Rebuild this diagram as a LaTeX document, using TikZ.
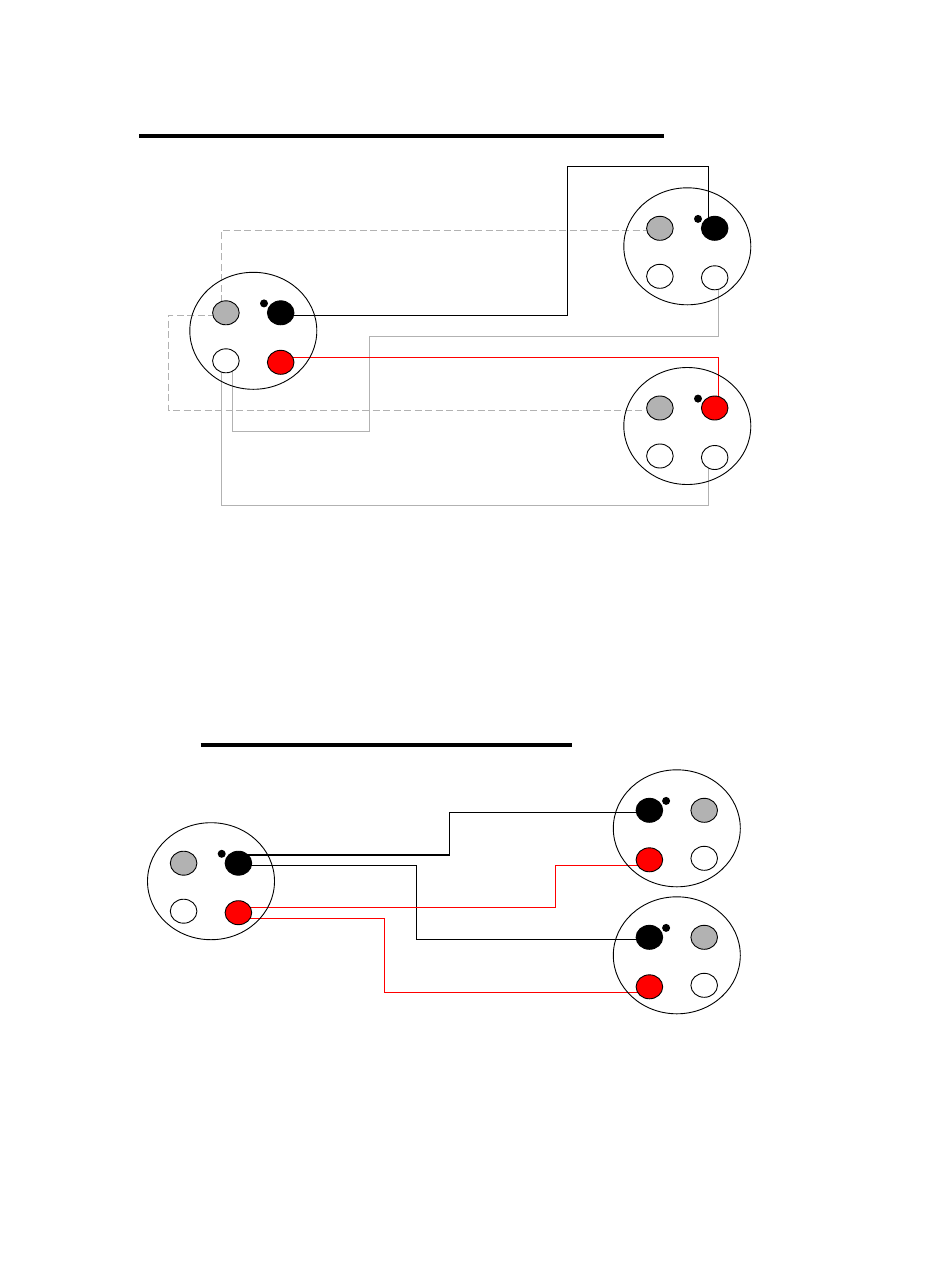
\documentclass[tikz,border=0pt]{standalone}
\usetikzlibrary{calc,shapes.geometric}
\pgfdeclarelayer{wires}
\pgfdeclarelayer{paper}
\pgfsetlayers{paper,wires,main}
\definecolor{pingray}{HTML}{B2B2B2}
\tikzset{
  shell/.style={ellipse,draw=black,line width=0.9pt,minimum width=127pt,minimum height=117pt,inner sep=0pt},
  pin/.style={ellipse,draw=black,line width=0.9pt,minimum width=26.6pt,minimum height=24pt,inner sep=0pt},
  keydot/.style={circle,fill=black,minimum size=8pt,inner sep=0pt},
  wire/.style={line width=#1,line join=miter},
  wire/.default=1pt,
  blackwire/.style={wire=1.1pt,draw=black},
  redwire/.style={wire=1pt,draw=red},
  graywire/.style={wire=1pt,draw=pingray},
  dashwire/.style={wire=1pt,draw=pingray,dash pattern=on 7pt off 3.5pt},
  rulebar/.style={line width=4.2pt,draw=black}
}
% name, centre x, centre y, side of the key (+1 right, -1 left), four pin colours
\newcommand{\plug}[8]{%
  \node[shell] (#1) at (#2,#3) {};
  \node[pin,fill=#5] (#1-key) at ({#2+#4*27.4},{#3-18}) {};
  \node[pin,fill=#6] (#1-far) at ({#2-#4*27.4},{#3-18}) {};
  \node[pin,fill=#7] (#1-low) at ({#2+#4*27.4},{#3+31.5}) {};
  \node[pin,fill=#8] (#1-lowfar) at ({#2-#4*27.4},{#3+30}) {};
  \node[keydot] (#1-dot) at ({#2+#4*10.7},{#3-27.4}) {};
}
\begin{document}
\begin{tikzpicture}[x=1pt,y=-1pt]
\useasboundingbox (0,0) rectangle (950,1267);
\begin{pgfonlayer}{paper}
  \fill[white] (0,0) rectangle (950,1267);
\end{pgfonlayer}

\coordinate (bar1a) at (139,136.2);
\coordinate (bar1b) at (663.5,136.2);
\coordinate (bar2a) at (200.5,745.2);
\coordinate (bar2b) at (572.3,745.2);
\draw[rulebar] (bar1a) -- (bar1b);
\draw[rulebar] (bar2a) -- (bar2b);

\plug{a}{253.3}{330.8}{1}{black}{pingray}{red}{white}
\plug{b}{687.3}{246.3}{1}{black}{pingray}{white}{white}
\plug{c}{687.3}{426}{1}{red}{pingray}{white}{white}
\plug{d}{211}{881.2}{1}{black}{pingray}{red}{white}
\plug{e}{676.8}{828.3}{-1}{black}{pingray}{red}{white}
\plug{f}{676.8}{955.3}{-1}{black}{pingray}{red}{white}

\begin{pgfonlayer}{wires}
  \draw[dashwire] ($(a-far)+(-4.2,0)$) |- ($(b-far)+(0,2)$);
  \draw[dashwire] ($(a-far)+(0,2.5)$) -| (168.3,410.3) -- ($(c-far)+(0,2.3)$);
  \draw[graywire] ($(a-lowfar)+(6.8,0)$) |- (369.3,431.3) |- (718.7,336.3) -- ($(b-low)+(4,0)$);
  \draw[graywire] ($(a-lowfar)+(-4.2,0)$) |- (708.3,505.3) -- ($(c-low)+(-6.4,0)$);
  \draw[blackwire] ($(a-key)+(0,2.5)$) -| (567.3,166.3) -| ($(b-key)+(-6.4,0)$);
  \draw[redwire] ($(a-low)+(0,-5)$) -| ($(c-key)+(4,0)$);

  \draw[blackwire] ($(d-key)+(0,-8.2)$) -| (449.5,812.3) -- ($(e-key)+(0,2)$);
  \draw[blackwire] ($(d-key)+(0,2.1)$) -| (416.7,939.3) -- ($(f-key)+(0,2)$);
  \draw[redwire] ($(d-low)+(0,-5)$) -| (555.5,865.3) -- ($(e-low)+(0,5.5)$);
  \draw[redwire] ($(d-low)+(0,5.6)$) -| (384.7,992.3) -- ($(f-low)+(0,5.5)$);
\end{pgfonlayer}
\end{tikzpicture}
\end{document}
